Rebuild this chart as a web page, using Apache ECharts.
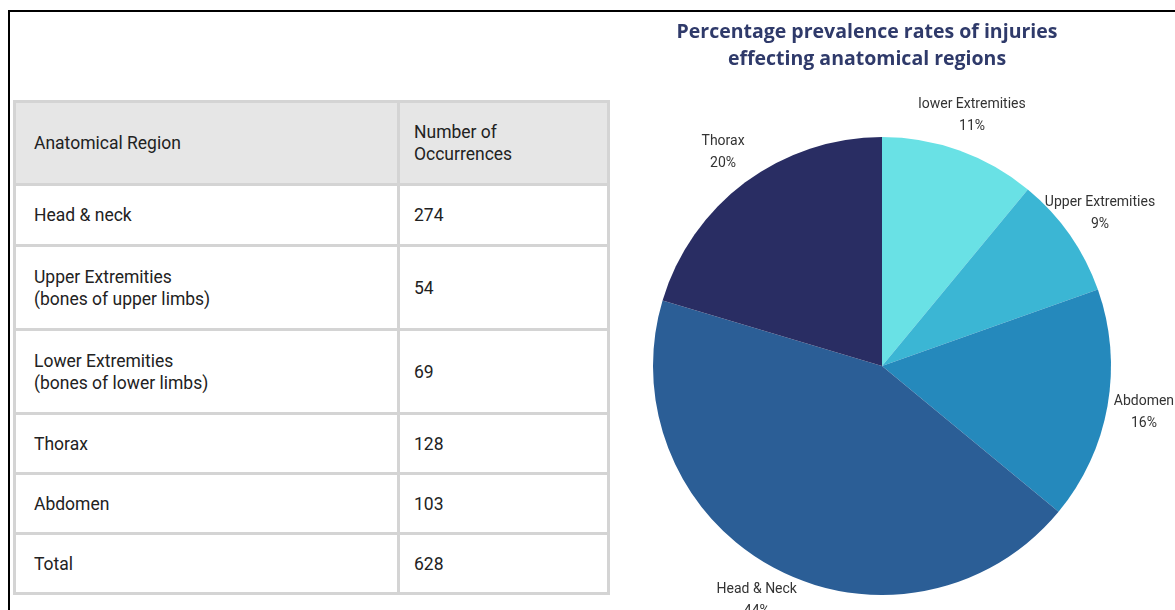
<!DOCTYPE html>
<html>
<head>
<meta charset="utf-8">
<script src="https://cdn.jsdelivr.net/npm/echarts@6/dist/echarts.min.js"></script>
<style>
  html, body { margin: 0; padding: 0; background: #ffffff; }
  #wrap { position: relative; width: 1175px; height: 610px; overflow: hidden; background: #fff; }
  #frame { position: absolute; left: 8px; top: 10px; width: 1180px; height: 620px; border-top: 2px solid #000; border-left: 2px solid #000; box-sizing: border-box; }
  #chart { position: absolute; left: 0; top: 0; width: 1175px; height: 610px; }
  #tbl { position: absolute; left: 13px; top: 100px; width: 597px; border-collapse: collapse; font-family: Roboto, "Liberation Sans", sans-serif; font-size: 17.5px; color: #222; }
  #tbl td { border: 3px solid #d4d4d4; padding: 0; vertical-align: middle; line-height: 22px; }
  #tbl td.c1 { width: 363px; padding-left: 18px; }
  #tbl td.c2 { padding-left: 14px; }
  #tbl tr.head td { background: #e6e6e6; }
</style>
</head>
<body>
<div id="wrap">
  <div id="frame"></div>
  <table id="tbl"></table>
  <div id="chart"></div>
</div>
<script>
// ---- data ----
const tableHeaders = ["Anatomical Region", "Number of\nOccurrences"];
const tableRegions = ["Head & neck", "Upper Extremities\n(bones of upper limbs)", "Lower Extremities\n(bones of lower limbs)", "Thorax", "Abdomen", "Total"];
const tableCounts = [274, 54, 69, 128, 103, 628];

const pieNames = ["lower Extremities", "Upper Extremities", "Abdomen", "Head & Neck", "Thorax"];
const pieValues = [69, 54, 103, 274, 128];
const pieColors = ["#69e1e5", "#3bb6d4", "#2589bc", "#2b5e96", "#292d63"];

const chartTitle = "Percentage prevalence rates of injuries\neffecting anatomical regions";

// ---- table ----
const rowHeights = [83, 61, 84, 84, 60, 60, 60];
const tbl = document.getElementById('tbl');
function esc(s) { return s.replace(/&/g, '&amp;').replace(/</g, '&lt;').replace(/\n/g, '<br>'); }
let html = '<tr class="head" style="height:' + rowHeights[0] + 'px"><td class="c1">' + esc(tableHeaders[0]) + '</td><td class="c2">' + esc(tableHeaders[1]) + '</td></tr>';
tableRegions.forEach(function (r, i) {
  html += '<tr style="height:' + rowHeights[i + 1] + 'px"><td class="c1">' + esc(r) + '</td><td class="c2">' + tableCounts[i] + '</td></tr>';
});
tbl.innerHTML = html;

// ---- chart ----
const chart = echarts.init(document.getElementById('chart'), null, { renderer: 'canvas' });
chart.setOption({
  backgroundColor: 'transparent',
  animation: false,
  title: {
    text: chartTitle,
    left: 862,
    top: 14,
    textAlign: 'center',
    textStyle: {
      fontFamily: '"Open Sans", sans-serif',
      fontWeight: 'bold',
      fontSize: 19.5,
      lineHeight: 27,
      color: '#2f3a6a'
    }
  },
  series: [{
    type: 'pie',
    center: [882, 366],
    radius: 229,
    startAngle: 90,
    clockwise: true,
    avoidLabelOverlap: false,
    data: pieNames.map(function (n, i) {
      return { name: n, value: pieValues[i], itemStyle: { color: pieColors[i] } };
    }),
    label: {
      show: true,
      position: 'outside',
      distanceToLabelLine: 0,
      fontFamily: 'Roboto, sans-serif',
      fontSize: 14,
      lineHeight: 22,
      color: '#333',
      formatter: function (p) { return p.name + '\n' + Math.round(p.percent) + '%'; }
    },
    labelLine: { show: false, length: 37, length2: 0 },
    labelLayout: function () { return { align: 'center' }; },
    emphasis: { disabled: true }
  }]
});
</script>
</body>
</html>
